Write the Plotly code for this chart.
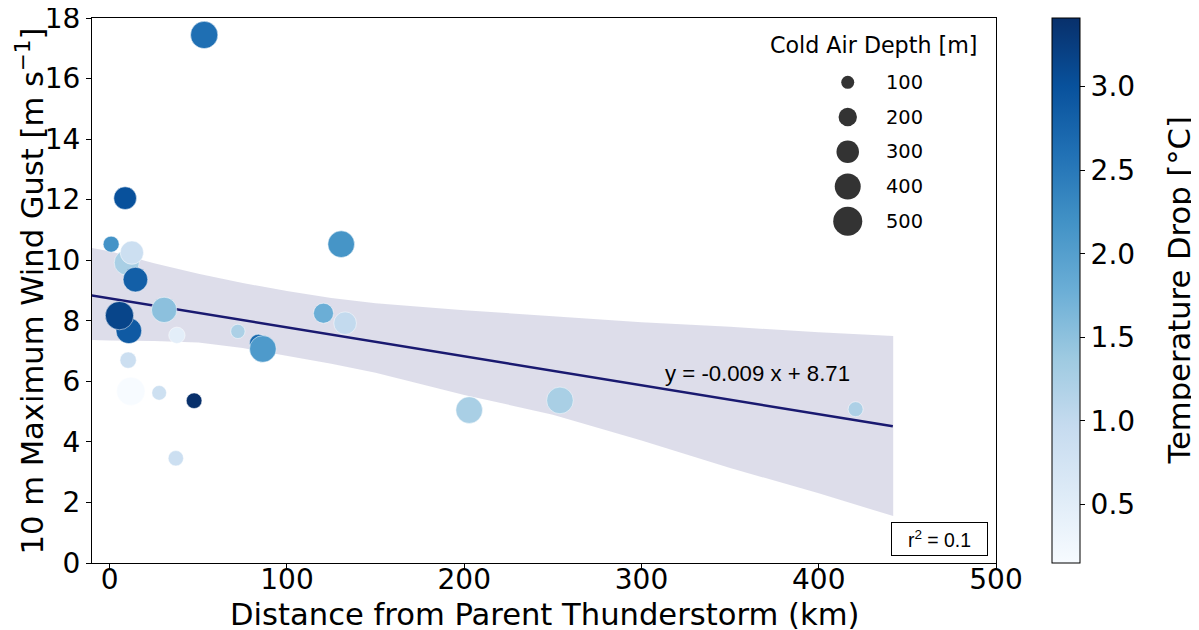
import numpy as np
import plotly.graph_objects as go
import plotly.express as px

# ---- data ----
distance_km = [8.7, 0.8, 9.6, 12.5, 14.5, 30.7, 10.8, 5.5, 37.9, 72.3, 83.9, 86.4,
               10.4, 11.9, 27.9, 47.6, 37.3, 120.6, 132.8, 53.3, 130.6, 202.8, 254.0, 420.8]
wind_gust = [12.05, 10.53, 9.92, 10.25, 9.36, 8.36, 7.67, 8.17, 7.52, 7.65, 7.26, 7.07,
             6.70, 5.67, 5.62, 5.36, 3.46, 8.25, 7.92, 17.44, 10.53, 5.05, 5.37, 5.08]
cold_air_depth = [305, 151, 370, 322, 360, 380, 390, 475, 158, 121, 190, 420,
                  158, 475, 127, 145, 139, 237, 305, 440, 420, 420, 420, 133]
temp_drop = [3.00, 2.17, 1.26, 0.87, 2.82, 1.52, 2.89, 3.15, 0.48, 1.23, 2.69, 2.07,
             0.87, 0.15, 0.84, 3.41, 0.87, 1.78, 1.00, 2.62, 2.15, 1.26, 1.26, 1.22]

# 95% confidence band of the fit
band_x = [-21, -10, 0, 25, 50, 75, 100, 125, 150, 200, 250, 300, 350, 400, 442]
band_upper = [10.55, 10.40, 10.30, 9.90, 9.55, 9.25, 8.98, 8.75, 8.58, 8.35, 8.15, 7.95, 7.80, 7.62, 7.50]
band_lower = [7.38, 7.36, 7.35, 7.33, 7.28, 7.10, 6.85, 6.58, 6.28, 5.55, 4.90, 4.05, 3.14, 2.30, 1.55]

legend_depths = [100, 200, 300, 400, 500]
legend_labels = ["100", "200", "300", "400", "500"]
x_ticks = [0, 100, 200, 300, 400, 500]
y_ticks = [0, 2, 4, 6, 8, 10, 12, 14, 16, 18]
cbar_ticks = [0.5, 1.0, 1.5, 2.0, 2.5, 3.0]
equation_label = "y = -0.009 x + 8.71"
r2_label = "r<sup>2</sup> = 0.1"

# ---- least-squares fit line ----
x = np.array(distance_km, dtype=float)
y = np.array(wind_gust, dtype=float)
slope, intercept = np.polyfit(x, y, 1)
span = x.max() - x.min()
grid = np.array([x.min() - 0.05 * span, x.max() + 0.05 * span])
fit = slope * grid + intercept

def size_px(d):
    return 1.3 * np.sqrt(np.array(d, dtype=float))

FONT = "DejaVu Sans"
ARIAL = "Liberation Sans"
LINE = "#191970"

fig = go.Figure()

fig.add_trace(go.Scatter(
    x=band_x + band_x[::-1], y=band_upper + band_lower[::-1],
    fill="toself", fillcolor="rgba(25,25,112,0.15)", line=dict(width=0),
    mode="lines", hoverinfo="skip", showlegend=False))
fig.add_trace(go.Scatter(x=grid, y=fit, mode="lines",
                         line=dict(color=LINE, width=2.5), showlegend=False))

fig.add_trace(go.Scatter(
    x=distance_km, y=wind_gust, mode="markers", showlegend=False,
    marker=dict(
        size=size_px(cold_air_depth), sizemode="diameter",
        color=temp_drop, colorscale=px.colors.sequential.Blues,
        line=dict(color="white", width=0.5), opacity=1,
        colorbar=dict(
            x=1.0615, xanchor="left", xpad=0, y=0.5, yanchor="middle", ypad=0,
            len=1, lenmode="fraction", thickness=28,
            outlinewidth=1, outlinecolor="black",
            ticks="outside", ticklen=5, tickwidth=1, tickcolor="black",
            tickvals=cbar_ticks, tickformat=".1f",
            tickfont=dict(family=FONT, size=28, color="black"),
        ),
    )))

# manual size legend on an overlay axis spanning the plot area
leg_top = 0.882
leg_step = 0.0637
leg_y = [leg_top - i * leg_step for i in range(len(legend_depths))]
fig.add_trace(go.Scatter(
    x=[0.836] * len(legend_depths), y=leg_y, mode="markers",
    marker=dict(size=size_px(legend_depths), sizemode="diameter", color="#333333",
                opacity=1, line=dict(width=0)),
    xaxis="x2", yaxis="y2", showlegend=False, hoverinfo="skip"))

axis_common = dict(showline=True, mirror=True, linecolor="black", linewidth=1,
                   ticks="outside", ticklen=5, tickwidth=1, tickcolor="black",
                   showgrid=False, zeroline=False, automargin=False,
                   ticklabeloverflow="allow",
                   tickfont=dict(family=FONT, size=28, color="black"))

annotations = [
    dict(text="Distance from Parent Thunderstorm (km)", xref="paper", yref="paper",
         x=0.5, y=-0.094, xanchor="center", yanchor="middle", showarrow=False,
         font=dict(family=FONT, size=30.6, color="black")),
    dict(text="10 m Maximum Wind Gust [m s<sup>−1</sup>]", xref="paper", yref="paper",
         x=-0.0686, y=0.5, xanchor="center", yanchor="middle", showarrow=False,
         textangle=-90, font=dict(family=FONT, size=30.6, color="black")),
    dict(text="Temperature Drop [°C]", xref="paper", yref="paper",
         x=1.2035, y=0.5, xanchor="center", yanchor="middle", showarrow=False,
         textangle=-90, font=dict(family=FONT, size=30.6, color="black")),
    dict(text="Cold Air Depth [m]", xref="paper", yref="paper", x=0.865, y=0.950,
         xanchor="center", yanchor="middle", showarrow=False,
         font=dict(family=FONT, size=22.2, color="black")),
    dict(text=equation_label, xref="x", yref="y", x=312, y=6.27,
         xanchor="left", yanchor="middle", showarrow=False,
         font=dict(family=ARIAL, size=22.2, color="black")),
    dict(text=r2_label, xref="paper", yref="paper", x=0.937, y=0.0437,
         xanchor="center", yanchor="middle", showarrow=False,
         width=95, height=32, borderpad=0, bordercolor="black", borderwidth=1,
         bgcolor="white", font=dict(family=ARIAL, size=19.4, color="black")),
]
for lab, ly in zip(legend_labels, leg_y):
    annotations.append(dict(text=lab, xref="paper", yref="paper", x=0.876, y=ly,
                            xanchor="left", yanchor="middle", showarrow=False,
                            font=dict(family=FONT, size=19.4, color="black")))

# the page body adds an 8px offset, so the layout is shifted up/left by 8px
fig.update_layout(
    width=1199, height=630,
    margin=dict(l=84, r=211, t=10, b=75),
    paper_bgcolor="white", plot_bgcolor="white",
    showlegend=False,
    xaxis=dict(range=[-10, 500], tickvals=x_ticks, ticklabelstandoff=-14, **axis_common),
    yaxis=dict(range=[0, 18.0001], tickvals=y_ticks, **axis_common),
    xaxis2=dict(domain=[0, 1], range=[0, 1], overlaying="x", anchor="y2", visible=False),
    yaxis2=dict(domain=[0, 1], range=[0, 1], overlaying="y", anchor="x2", visible=False),
    annotations=annotations,
)

fig.write_html("out.html")
